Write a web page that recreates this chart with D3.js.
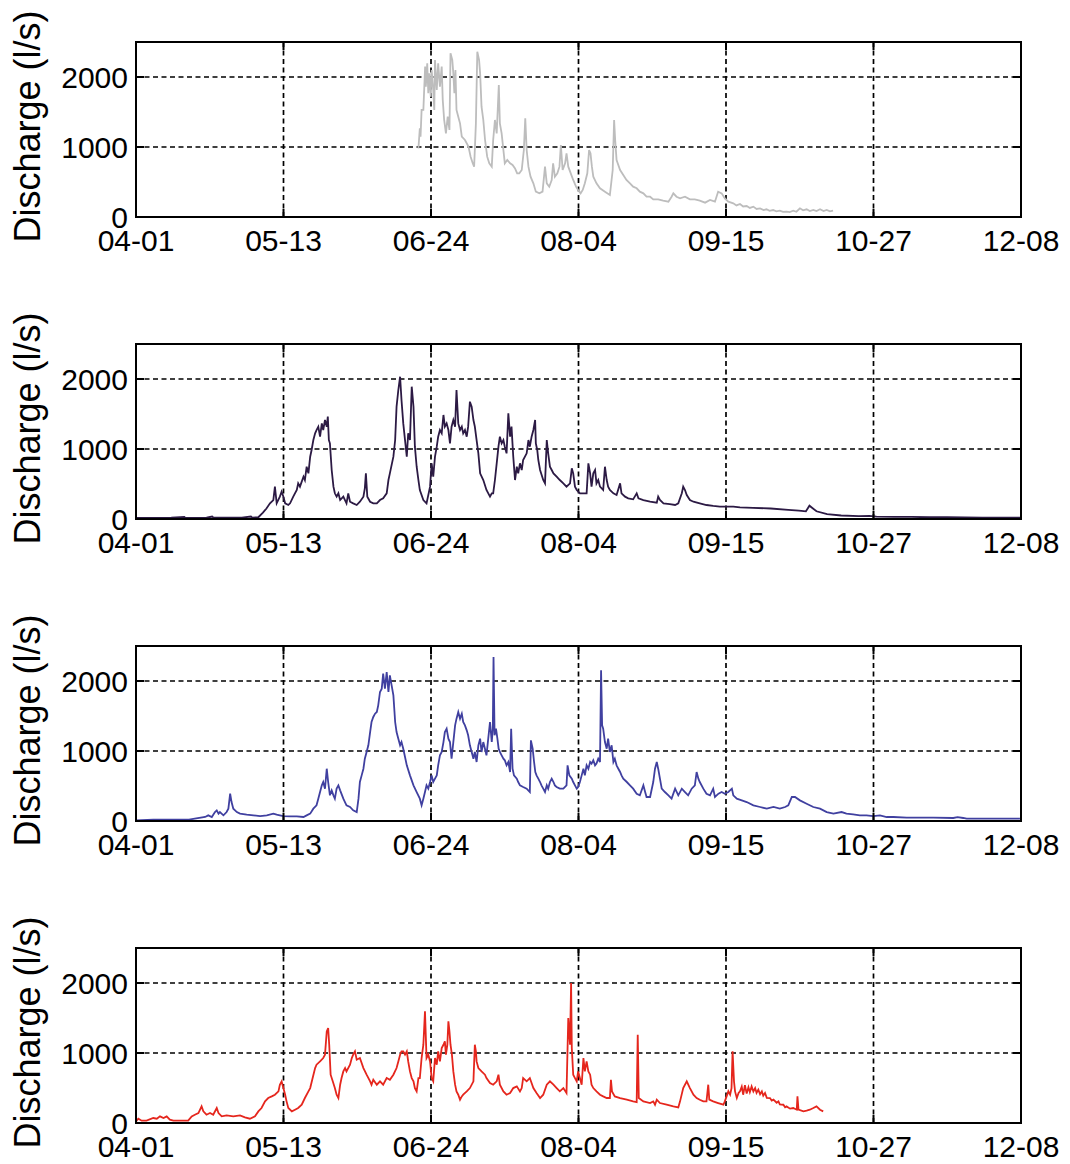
<!DOCTYPE html>
<html><head><meta charset="utf-8">
<script src="https://cdn.jsdelivr.net/npm/d3@7"></script>
<style>body{margin:0;background:#fff;} svg{display:block;}</style>
</head><body>
<svg id="chart" width="1070" height="1164"></svg>
<script>
// x: days since 04-01, y: discharge (l/s)
const tickLabels = ["04-01","05-13","06-24","08-04","09-15","10-27","12-08"];
const yTicks = [0, 1000, 2000];
const yLabel = "Discharge (l/s)";

const seriesGray = [[80.1,981],[80.5,1267],[80.7,1148],[81.0,1529],[81.5,1529],[82.0,2148],[82.2,1862],[82.6,2195],[82.9,1767],[83.2,2052],[83.6,1719],[83.85,2100],[84.3,1814],[84.6,1529],[84.8,2243],[85.3,1814],[85.7,2195],[86.2,1862],[86.7,2148],[87.0,1671],[87.4,1386],[87.9,1195],[88.4,1433],[88.9,1243],[89.2,2338],[89.7,2243],[90.0,2052],[90.3,1767],[90.6,2100],[90.9,1529],[91.4,1433],[91.9,1338],[92.4,1148],[93.3,1100],[94.3,1005],[94.9,862],[95.5,767],[95.9,719],[96.4,1338],[96.8,2362],[97.3,2243],[97.6,2052],[98.0,1576],[98.5,1386],[99.0,1100],[99.6,862],[100.2,767],[100.9,719],[101.3,1100],[101.8,1386],[102.3,1195],[102.9,1886],[103.2,1338],[103.7,1195],[104.2,957],[104.6,767],[105.3,814],[106.1,767],[106.8,743],[107.5,695],[108.1,624],[108.7,624],[109.4,671],[110.0,957],[110.4,1410],[110.8,957],[111.3,719],[111.9,576],[112.7,481],[113.4,362],[114.4,338],[115.3,362],[116.0,719],[116.5,481],[117.2,433],[117.9,529],[118.3,767],[118.8,576],[119.5,624],[120.1,719],[120.5,1029],[121.0,671],[121.7,767],[122.1,910],[122.6,719],[123.3,624],[124.0,529],[124.8,433],[125.4,386],[126.1,338],[126.7,386],[127.3,481],[128.0,624],[128.5,957],[128.9,910],[129.3,719],[129.7,576],[130.6,481],[131.6,410],[133.0,362],[134.4,314],[135.2,671],[135.6,1386],[135.9,1100],[136.3,814],[137.3,671],[138.2,600],[139.1,529],[140.1,481],[141.0,433],[142.0,410],[142.9,362],[143.9,338],[144.8,290],[145.8,290],[146.7,252],[148.1,252],[149.5,233],[151.0,219],[151.9,290],[152.4,338],[153.3,290],[154.3,267],[155.7,290],[157.1,252],[158.5,252],[159.9,233],[161.4,205],[162.8,243],[164.2,219],[165.1,362],[166.1,338],[167.0,267],[168.0,219],[169.4,195],[170.3,165],[171.3,186],[172.2,150],[173.2,157],[174.1,130],[175.1,148],[176.0,115],[177.0,124],[178.0,100],[178.8,110],[179.7,88],[180.7,100],[181.6,80],[182.6,90],[183.5,72],[184.5,76],[185.4,70],[186.4,90],[187.3,75],[188.3,124],[189.2,95],[190.2,110],[191.1,85],[192.1,100],[193.0,85],[194.0,110],[195.0,85],[195.9,100],[196.8,80],[197.7,90]];

const seriesPurple = [[0,15],[5,15],[10,18],[13.7,30],[14.0,15],[20,18],[21.6,35],[22,18],[30,20],[32.6,35],[33,20],[34.7,25],[36,90],[37,150],[38.0,224],[38.95,271],[39.4,462],[39.9,224],[40.8,319],[41.3,390],[41.8,319],[42.3,224],[43.2,200],[43.7,224],[44.6,319],[45.6,414],[46.0,509],[46.5,462],[47.5,605],[47.9,557],[48.4,747],[48.9,652],[49.4,890],[49.8,986],[50.3,1128],[50.8,1224],[51.2,1271],[51.7,1319],[52.2,1176],[52.7,1366],[53.1,1271],[53.6,1414],[54.1,1319],[54.4,1462],[54.7,1128],[55.0,1081],[55.5,700],[56.0,462],[56.4,367],[56.9,319],[57.4,367],[57.9,271],[58.8,319],[59.7,224],[60.2,367],[60.7,247],[61.6,224],[62.6,200],[63.5,247],[64.5,319],[64.9,438],[65.2,652],[65.6,319],[66.4,247],[67.3,224],[68.3,224],[69.2,271],[70.1,295],[71.1,367],[71.6,557],[72.0,652],[73.0,890],[73.5,1128],[73.9,1605],[74.4,1843],[74.9,2033],[75.3,1700],[75.8,1366],[76.3,1128],[76.8,890],[77.2,1224],[77.7,1128],[78.2,1890],[78.7,1605],[79.1,1033],[79.6,747],[80.1,557],[80.5,414],[81.5,271],[82.4,224],[83.4,462],[83.85,795],[84.3,605],[84.8,890],[85.3,1033],[85.7,1176],[86.2,1271],[86.7,1224],[87.2,1486],[87.6,1319],[88.1,1366],[88.6,1271],[89.05,1081],[89.5,1319],[90.0,1414],[90.5,1319],[90.9,1843],[91.4,1366],[91.9,1271],[92.4,1319],[92.8,1224],[93.3,1271],[93.8,1176],[94.2,1319],[94.7,1676],[95.2,1605],[95.7,1414],[96.1,1319],[96.6,1128],[97.1,938],[97.6,652],[98.5,557],[99.4,414],[100.4,319],[100.9,367],[101.3,367],[101.8,557],[102.3,795],[102.8,1033],[103.2,1176],[103.7,1081],[104.2,1128],[104.6,1033],[105.1,938],[105.6,1509],[106.1,1176],[106.5,1319],[107.0,890],[107.5,557],[108.0,747],[108.4,652],[108.9,795],[109.4,700],[109.8,843],[110.8,938],[111.3,1128],[111.7,1033],[112.2,1176],[112.7,1271],[113.2,1414],[113.4,1081],[113.8,986],[114.1,843],[114.6,700],[115.5,557],[116.0,509],[116.5,1128],[116.9,938],[117.4,747],[117.9,700],[118.4,652],[119.3,605],[120.2,557],[121.2,509],[122.1,462],[123.1,509],[123.6,724],[124.0,652],[124.5,462],[125.0,414],[125.9,367],[126.9,367],[127.8,367],[128.3,795],[128.8,652],[129.2,462],[129.7,652],[130.2,700],[130.6,509],[131.1,557],[131.6,462],[132.5,414],[133.0,747],[133.5,557],[133.9,462],[134.4,414],[135.4,367],[136.3,343],[137.3,509],[137.7,367],[138.7,319],[139.6,295],[141.0,281],[142.0,367],[142.5,295],[143.9,271],[145.8,247],[147.7,233],[148.1,319],[148.6,271],[149.6,224],[151.4,214],[152.9,200],[153.8,224],[154.8,367],[155.2,462],[155.7,414],[156.2,343],[157.1,271],[158.1,247],[159.9,224],[161.8,200],[163.7,186],[165.6,176],[167.5,176],[169.4,176],[171.3,167],[175,160],[180,150],[185,130],[188,120],[190,110],[191,190],[192,150],[193,110],[196,70],[200,50],[205,40],[208,45],[210,35],[215,30],[220,30],[225,25],[230,25],[235,22],[240,20],[245,20],[251,18]];

const seriesBlue = [[0,9],[4.9,19],[10,19],[15,19],[19.6,57],[20.5,81],[21.5,57],[22.4,128],[22.9,152],[23.4,105],[23.8,128],[24.8,81],[25.7,128],[26.2,176],[26.7,390],[27.1,271],[27.6,176],[28.1,152],[28.6,128],[29.5,105],[31.4,90],[33.3,81],[35.2,71],[37.1,81],[38.95,105],[39.9,90],[40.8,81],[41.8,71],[43.7,66],[45.6,66],[47.5,57],[48.4,81],[49.4,105],[50.3,176],[51.2,224],[51.7,319],[52.2,414],[52.7,509],[53.1,557],[53.6,462],[54.1,747],[54.5,557],[55.0,367],[55.5,438],[56.0,367],[56.4,319],[56.9,462],[57.4,509],[57.9,438],[58.8,319],[59.7,224],[60.7,200],[61.6,152],[62.6,128],[63.1,319],[63.5,557],[64.0,652],[64.5,747],[64.9,890],[65.4,986],[65.9,1081],[66.4,1271],[66.8,1414],[67.3,1486],[67.8,1533],[68.3,1557],[68.7,1652],[69.2,1843],[69.7,1890],[70.1,2105],[70.6,1890],[71.1,2129],[71.6,1843],[72.0,2081],[72.5,1938],[73.0,1795],[73.5,1414],[73.9,1271],[74.4,1176],[74.9,1081],[75.3,1128],[75.8,1033],[76.3,914],[76.8,795],[77.7,652],[78.7,509],[79.6,414],[80.5,319],[81.0,224],[81.5,319],[81.96,414],[82.4,509],[82.9,462],[83.4,557],[83.85,652],[84.3,557],[84.8,605],[85.3,652],[85.7,795],[86.2,938],[86.7,986],[87.2,1128],[87.6,1271],[88.1,1319],[88.6,1176],[89.05,1128],[89.5,890],[90.0,1128],[90.5,1366],[90.9,1462],[91.4,1557],[91.9,1462],[92.4,1533],[92.8,1414],[93.3,1366],[93.8,1295],[94.2,1224],[94.7,1081],[95.2,986],[95.7,890],[96.1,986],[96.6,843],[97.1,1081],[97.6,1176],[98.0,986],[98.5,1128],[98.97,1033],[99.4,938],[99.9,1176],[100.4,1414],[100.9,1128],[101.2,1319],[101.4,2343],[101.7,1224],[102.1,1319],[102.5,1176],[102.85,1033],[103.2,986],[103.7,938],[104.2,890],[104.6,867],[105.1,795],[105.6,843],[106.1,700],[106.4,1319],[106.8,747],[107.2,652],[108.0,605],[108.4,557],[108.9,509],[109.8,486],[110.8,462],[111.7,414],[112.0,1152],[112.5,1033],[112.9,843],[113.25,700],[113.6,652],[114.1,605],[114.6,557],[115.0,509],[115.5,462],[116.0,414],[116.5,509],[116.9,462],[117.4,557],[117.9,605],[118.4,557],[118.8,509],[119.3,486],[120.2,462],[121.2,462],[122.1,509],[122.4,795],[122.9,652],[123.6,605],[124.0,557],[124.5,509],[125.0,462],[125.4,486],[125.9,557],[126.4,652],[126.9,747],[127.3,652],[127.8,795],[128.3,747],[128.8,843],[129.2,819],[129.7,867],[130.2,795],[130.6,819],[131.1,890],[131.6,843],[131.9,2152],[132.2,1366],[132.5,1319],[133.0,1128],[133.5,1033],[133.9,1176],[134.4,986],[134.9,1081],[135.4,843],[135.8,890],[136.3,795],[136.8,747],[137.3,700],[137.7,652],[138.2,605],[139.2,557],[140.1,509],[141.0,462],[142.0,390],[142.9,367],[143.9,509],[144.4,414],[144.8,343],[145.8,343],[146.7,557],[147.2,747],[147.7,843],[148.1,747],[148.6,605],[149.1,462],[150.0,414],[151.0,367],[151.9,319],[152.9,462],[153.8,367],[154.8,462],[155.7,414],[156.6,367],[157.6,462],[158.5,509],[159.0,700],[159.5,605],[159.9,557],[160.9,462],[161.8,390],[162.8,367],[163.7,462],[164.2,343],[165.2,390],[166.1,414],[167.0,390],[168.0,414],[169.0,462],[169.4,367],[170.4,319],[171.8,295],[173.2,271],[175.1,224],[177.0,200],[178.9,176],[180.8,200],[182.6,176],[184.1,200],[185.0,224],[186.0,343],[186.9,343],[188.3,295],[190.2,247],[192.1,200],[194.0,176],[195.9,128],[197.8,105],[200.1,128],[201.5,105],[203.4,95],[205.3,81],[207.2,81],[209.1,71],[211.0,81],[212.9,57],[214.8,57],[218.6,47],[226.1,47],[231.8,43],[233,55],[234.6,43],[235.6,33],[245.0,33],[250.7,33]];

const seriesRed = [[0,23],[0.66,61],[1.6,33],[3.0,33],[4.9,71],[5.9,61],[6.8,95],[7.8,71],[8.7,95],[9.6,47],[10.6,33],[14.8,33],[15.8,95],[16.7,118],[17.7,142],[18.6,237],[19.1,166],[20.0,118],[21.0,142],[21.9,118],[22.9,214],[23.4,142],[24.3,95],[25.7,109],[27.6,95],[29.5,109],[30.9,80],[32.3,61],[33.75,95],[34.7,166],[35.6,214],[36.6,309],[37.5,357],[38.5,380],[39.4,404],[40.4,452],[40.8,547],[41.3,595],[41.8,499],[42.3,404],[42.7,309],[43.2,214],[44.2,166],[45.1,190],[46.0,214],[47.0,261],[47.9,357],[48.9,452],[49.4,499],[50.1,642],[50.8,785],[51.2,833],[52.2,880],[53.1,928],[53.6,976],[54.1,1309],[54.5,1356],[54.8,1118],[55.2,690],[55.8,595],[56.4,499],[56.9,404],[57.4,357],[57.9,547],[58.3,642],[58.8,737],[59.3,785],[59.7,737],[60.7,833],[61.2,928],[61.6,976],[62.1,1023],[62.6,904],[63.5,928],[64.5,785],[65.4,690],[66.4,595],[66.8,547],[67.3,618],[68.3,547],[69.2,595],[70.1,547],[71.1,642],[72.0,618],[73.0,690],[73.9,785],[74.4,880],[74.9,976],[75.3,1023],[75.8,1023],[76.3,976],[76.8,1023],[77.2,880],[77.7,737],[78.2,642],[78.7,595],[79.1,499],[79.6,452],[80.1,642],[80.5,642],[81.0,928],[81.5,1118],[81.96,1595],[82.4,928],[82.9,976],[83.4,880],[83.85,642],[84.3,595],[84.8,928],[85.3,833],[85.7,1023],[86.2,880],[86.7,1071],[87.2,1118],[87.6,1166],[87.9,976],[88.3,1118],[88.6,1452],[88.9,1309],[89.2,1118],[89.6,976],[90.0,737],[90.5,547],[90.9,452],[91.4,404],[91.9,333],[92.4,380],[92.8,404],[93.8,452],[94.7,499],[95.7,595],[96.1,1118],[96.4,1023],[96.6,880],[97.1,785],[98.0,737],[98.97,690],[99.4,642],[100.4,571],[101.3,547],[102.3,595],[102.8,690],[103.2,547],[104.2,452],[105.1,404],[106.1,428],[107.0,499],[108.0,523],[108.9,452],[109.4,499],[109.8,642],[110.8,595],[111.7,642],[112.7,499],[113.6,428],[114.6,357],[115.5,404],[116.5,547],[117.4,595],[118.4,547],[119.3,499],[120.2,452],[121.2,499],[122.1,428],[122.6,1499],[123.1,1118],[123.4,2000],[123.6,1071],[124.0,690],[124.5,642],[125.0,595],[125.4,737],[125.9,642],[126.4,547],[126.9,928],[127.3,737],[127.8,880],[128.3,737],[128.8,690],[129.2,547],[129.7,499],[130.6,452],[131.6,404],[132.5,380],[133.5,357],[134.4,357],[134.7,618],[135.0,452],[135.8,380],[137.3,357],[139.2,333],[141.0,309],[142.0,299],[142.3,1261],[142.6,357],[143.9,309],[145.8,285],[146.7,309],[147.2,261],[147.7,333],[148.6,285],[150.5,261],[152.4,237],[153.8,223],[154.3,309],[155.2,499],[156.2,595],[157.1,499],[158.1,404],[159.0,357],[159.9,333],[160.9,309],[161.8,309],[162.3,547],[162.6,333],[163.7,309],[165.1,285],[166.6,261],[167.0,309],[167.5,380],[168.0,452],[168.5,404],[168.9,499],[169.2,1023],[169.6,595],[169.9,452],[170.4,357],[170.9,430],[171.3,452],[171.8,520],[172.2,404],[172.7,540],[173.2,420],[173.7,510],[174.1,440],[174.6,523],[175.1,450],[175.6,499],[176.0,430],[176.5,476],[177.0,410],[177.5,452],[177.9,390],[178.4,428],[178.9,360],[179.8,357],[180.3,320],[180.8,333],[181.7,290],[182.2,309],[182.6,265],[183.6,261],[184.1,225],[184.5,237],[185.5,205],[186.4,214],[187.4,190],[187.6,380],[187.9,190],[189.3,166],[190.2,176],[191.1,190],[192.1,214],[193.0,237],[194.0,190],[194.9,166]];

const panelSeries = [seriesGray, seriesPurple, seriesBlue, seriesRed];
const panelColors = ["#bdbdbd", "#2c1a44", "#4040a0", "#e5261d"];

const W = 1070, H = 1164;
const left = 136, right = 1021, plotH = 175;
const panelTops = [42, 344, 646, 948];
const fontFam = "'Liberation Sans', Arial, Helvetica, sans-serif";

const svg = d3.select("#chart");
svg.append("rect").attr("width", W).attr("height", H).attr("fill", "#fff");

const x = d3.scaleLinear().domain([0, 251]).range([left, right]);
const xTickVals = tickLabels.map((_, i) => 251 * i / 6);

panelTops.forEach((top, pi) => {
  const y = d3.scaleLinear().domain([0, 2500]).range([top + plotH, top]);
  const g = svg.append("g");

  // grid
  g.selectAll("line.vg").data(xTickVals.slice(1, -1)).enter().append("line")
    .attr("x1", d => x(d)).attr("x2", d => x(d))
    .attr("y1", top).attr("y2", top + plotH)
    .attr("stroke", "#000").attr("stroke-width", 1.7).attr("stroke-dasharray", "5,3.5");
  g.selectAll("line.hg").data(yTicks.slice(1)).enter().append("line")
    .attr("x1", left).attr("x2", right)
    .attr("y1", d => y(d)).attr("y2", d => y(d))
    .attr("stroke", "#000").attr("stroke-width", 1.7).attr("stroke-dasharray", "5,3.5");

  // clip
  const cid = "clip" + pi;
  svg.append("clipPath").attr("id", cid).append("rect")
    .attr("x", left).attr("y", top).attr("width", right - left).attr("height", plotH);

  const line = d3.line().x(d => x(d[0])).y(d => y(d[1]));
  g.append("path").datum(panelSeries[pi])
    .attr("clip-path", `url(#${cid})`)
    .attr("d", line).attr("fill", "none")
    .attr("stroke", panelColors[pi]).attr("stroke-width", 1.8)
    .attr("stroke-linejoin", "miter");

  // ticks inward
  xTickVals.forEach(v => {
    g.append("line").attr("x1", x(v)).attr("x2", x(v)).attr("y1", top + plotH).attr("y2", top + plotH - 8)
      .attr("stroke", "#000").attr("stroke-width", 2);
    g.append("line").attr("x1", x(v)).attr("x2", x(v)).attr("y1", top).attr("y2", top + 8)
      .attr("stroke", "#000").attr("stroke-width", 2);
  });
  yTicks.forEach(v => {
    g.append("line").attr("x1", left).attr("x2", left + 8).attr("y1", y(v)).attr("y2", y(v))
      .attr("stroke", "#000").attr("stroke-width", 2);
    g.append("line").attr("x1", right).attr("x2", right - 8).attr("y1", y(v)).attr("y2", y(v))
      .attr("stroke", "#000").attr("stroke-width", 2);
  });

  // frame
  g.append("rect").attr("x", left).attr("y", top).attr("width", right - left).attr("height", plotH)
    .attr("fill", "none").attr("stroke", "#000").attr("stroke-width", 2);

  // y tick labels
  g.selectAll("text.yt").data(yTicks).enter().append("text")
    .attr("x", left - 8).attr("y", d => y(d) + 11)
    .attr("text-anchor", "end")
    .attr("font-family", fontFam).attr("font-size", 30).attr("fill", "#000")
    .text(d => d);

  // x tick labels
  g.selectAll("text.xt").data(xTickVals).enter().append("text")
    .attr("x", d => x(d)).attr("y", top + plotH + 34)
    .attr("text-anchor", "middle")
    .attr("font-family", fontFam).attr("font-size", 30).attr("fill", "#000")
    .text((d, i) => tickLabels[i]);

  // y label
  g.append("text")
    .attr("transform", `translate(40,${top + plotH / 2 - 3}) rotate(-90)`)
    .attr("text-anchor", "middle")
    .attr("font-family", fontFam).attr("font-size", 36).attr("fill", "#000")
    .text(yLabel);
});
</script>
</body></html>
